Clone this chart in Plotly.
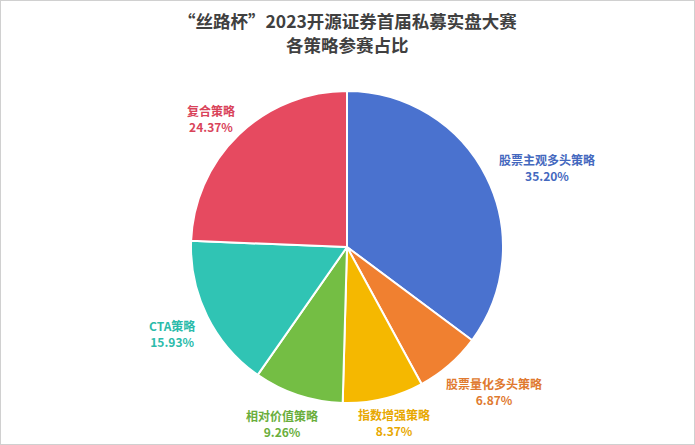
import math
import plotly.graph_objects as go

categories = ["股票主观多头策略", "股票量化多头策略", "指数增强策略", "相对价值策略", "CTA策略", "复合策略"]
shares = [35.20, 6.87, 8.37, 9.26, 15.93, 24.37]
slice_colors = ["#4A72CF", "#F08030", "#F5B800", "#74BE44", "#30C4B4", "#E64A60"]
label_colors = ["#4468BE", "#E07A30", "#E8A800", "#6AAE3C", "#2BBBAA", "#D9435A"]
label_radius_px = [215, 206, 182, 188, 195, 187]
label_angle_nudge = [5.0, -4.7, -1.5, 2.0, 0.0, -2.8]
title_lines = ["“丝路杯”2023开源证券首届私募实盘大赛", "各策略参赛占比"]
title_line_y_px = [20, 44]

W, H = 695, 445
cx_px, cy_px, R = 347, 247, 156

fig = go.Figure(go.Pie(
    labels=categories,
    values=shares,
    sort=False,
    direction="clockwise",
    rotation=0,
    marker=dict(colors=slice_colors, line=dict(color="white", width=2)),
    textinfo="none",
    hoverinfo="label+percent",
    domain=dict(x=[(cx_px - R) / W, (cx_px + R) / W],
                y=[(H - cy_px - R) / H, (H - cy_px + R) / H]),
    showlegend=False,
))

total = sum(shares)
cum = 0.0
annotations = []
for name, v, col, rl, nud in zip(categories, shares, label_colors, label_radius_px, label_angle_nudge):
    mid = (cum + v / 2) / total * 360 + nud
    cum += v
    a = math.radians(mid)
    x_px = cx_px + rl * math.sin(a)
    y_px = cy_px - rl * math.cos(a)
    annotations.append(dict(
        x=x_px / W, y=1 - y_px / H, xref="paper", yref="paper",
        text=f"<b>{name}</b><br><b>{v:.2f}%</b>",
        showarrow=False, xanchor="center", yanchor="middle",
        font=dict(size=12, color=col, family="Noto Sans CJK SC"),
        align="center",
    ))

for t, yp in zip(title_lines, title_line_y_px):
    annotations.append(dict(
        x=0.5, y=1 - yp / H, xref="paper", yref="paper",
        text=f"<b>{t}</b>",
        showarrow=False, xanchor="center", yanchor="middle", align="center",
        font=dict(size=17.5, color="#404040", family="Noto Sans CJK SC"),
        borderpad=0,
    ))

fig.update_layout(
    width=W, height=H,
    margin=dict(l=0, r=0, t=0, b=0),
    paper_bgcolor="white",
    plot_bgcolor="white",
    annotations=annotations,
    shapes=[dict(type="rect", xref="paper", yref="paper",
                 x0=0, x1=1, y0=0, y1=1,
                 line=dict(color="#D0D0D0", width=2))],
)

fig.write_html("out.html")
